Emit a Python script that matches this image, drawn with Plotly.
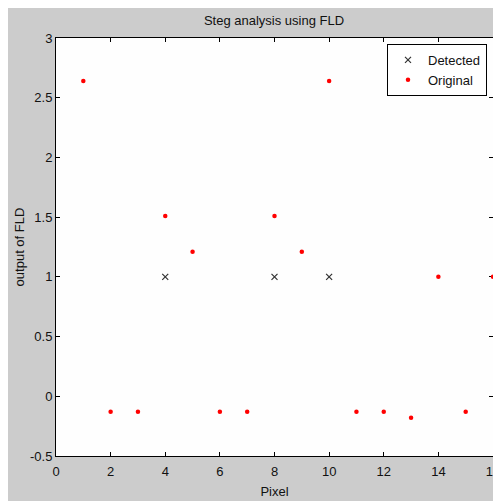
import plotly.graph_objects as go

pixels = list(range(1, 17))
original = [2.64, -0.13, -0.13, 1.51, 1.21, -0.13, -0.13, 1.51, 1.21, 2.64,
            -0.13, -0.13, -0.18, 1.0, -0.13, 1.0]
detected_x = [4, 8, 10]
detected_y = [1, 1, 1]
x_ticks = list(range(0, 17, 2))
y_ticks = [-0.5, 0, 0.5, 1, 1.5, 2, 2.5, 3]
y_tick_text = ["-0.5", "0", "0.5", "1", "1.5", "2", "2.5", "3"]

OFF = 8  # page body margin
W, H = 501 - OFF, 501 - OFF
# target page-pixel plot box: x 56..493, y 38..456
ML, MR, MT, MB = 56 - OFF, 501 - 493, 38 - OFF, 501 - 456
PW, PH = W - ML - MR, H - MT - MB

def px_to_paper_x(px):  # px in page pixels
    return (px - OFF - ML) / PW

def px_to_paper_y(py):
    return (H - MB - (py - OFF)) / PH

font = "Liberation Sans, Arial, sans-serif"

fig = go.Figure()
fig.add_trace(go.Scatter(
    x=detected_x, y=detected_y, mode="markers", name="Detected",
    marker=dict(symbol="x-thin", size=6, line=dict(width=1.2, color="#333333"), color="#333333"),
    cliponaxis=False,
))
fig.add_trace(go.Scatter(
    x=pixels, y=original, mode="markers", name="Original",
    marker=dict(symbol="circle", size=4.5, color="#ff0000"),
    cliponaxis=False,
))

axis_common = dict(
    showline=True, linecolor="black", linewidth=1, mirror="ticks",
    ticks="inside", ticklen=4, tickcolor="black", tickwidth=1,
    showgrid=False, zeroline=False, automargin=False, layer="below traces",
    tickfont=dict(family=font, size=13, color="#111111"),
)

fig.update_xaxes(range=[0, 16], tickvals=x_ticks, ticktext=[str(v) for v in x_ticks],
                 ticklabelstandoff=3,
                 title=dict(text="Pixel", font=dict(family=font, size=13, color="#111111"), standoff=9),
                 **axis_common)
fig.update_yaxes(range=[-0.5, 3], tickvals=y_ticks, ticktext=y_tick_text,
                 title=dict(text="output of FLD", font=dict(family=font, size=13, color="#111111"), standoff=2),
                 **axis_common)

fig.update_layout(
    width=W, height=H,
    margin=dict(l=ML, r=MR, t=MT, b=MB, pad=0, autoexpand=False),
    paper_bgcolor="#cccccc",
    plot_bgcolor="#fefefe",
    title=dict(text="Steg analysis using FLD", x=px_to_paper_x(274), xref="paper",
               xanchor="center", y=1 - (20 - OFF) / H, yanchor="middle",
               font=dict(family=font, size=13, color="#111111")),
    legend=dict(x=px_to_paper_x(487), y=px_to_paper_y(44), xanchor="right", yanchor="top",
                bgcolor="white", bordercolor="black", borderwidth=1,
                font=dict(family=font, size=13, color="#111111"),
                tracegroupgap=0, itemwidth=30),
    showlegend=True,
)

fig.write_html("out.html")
